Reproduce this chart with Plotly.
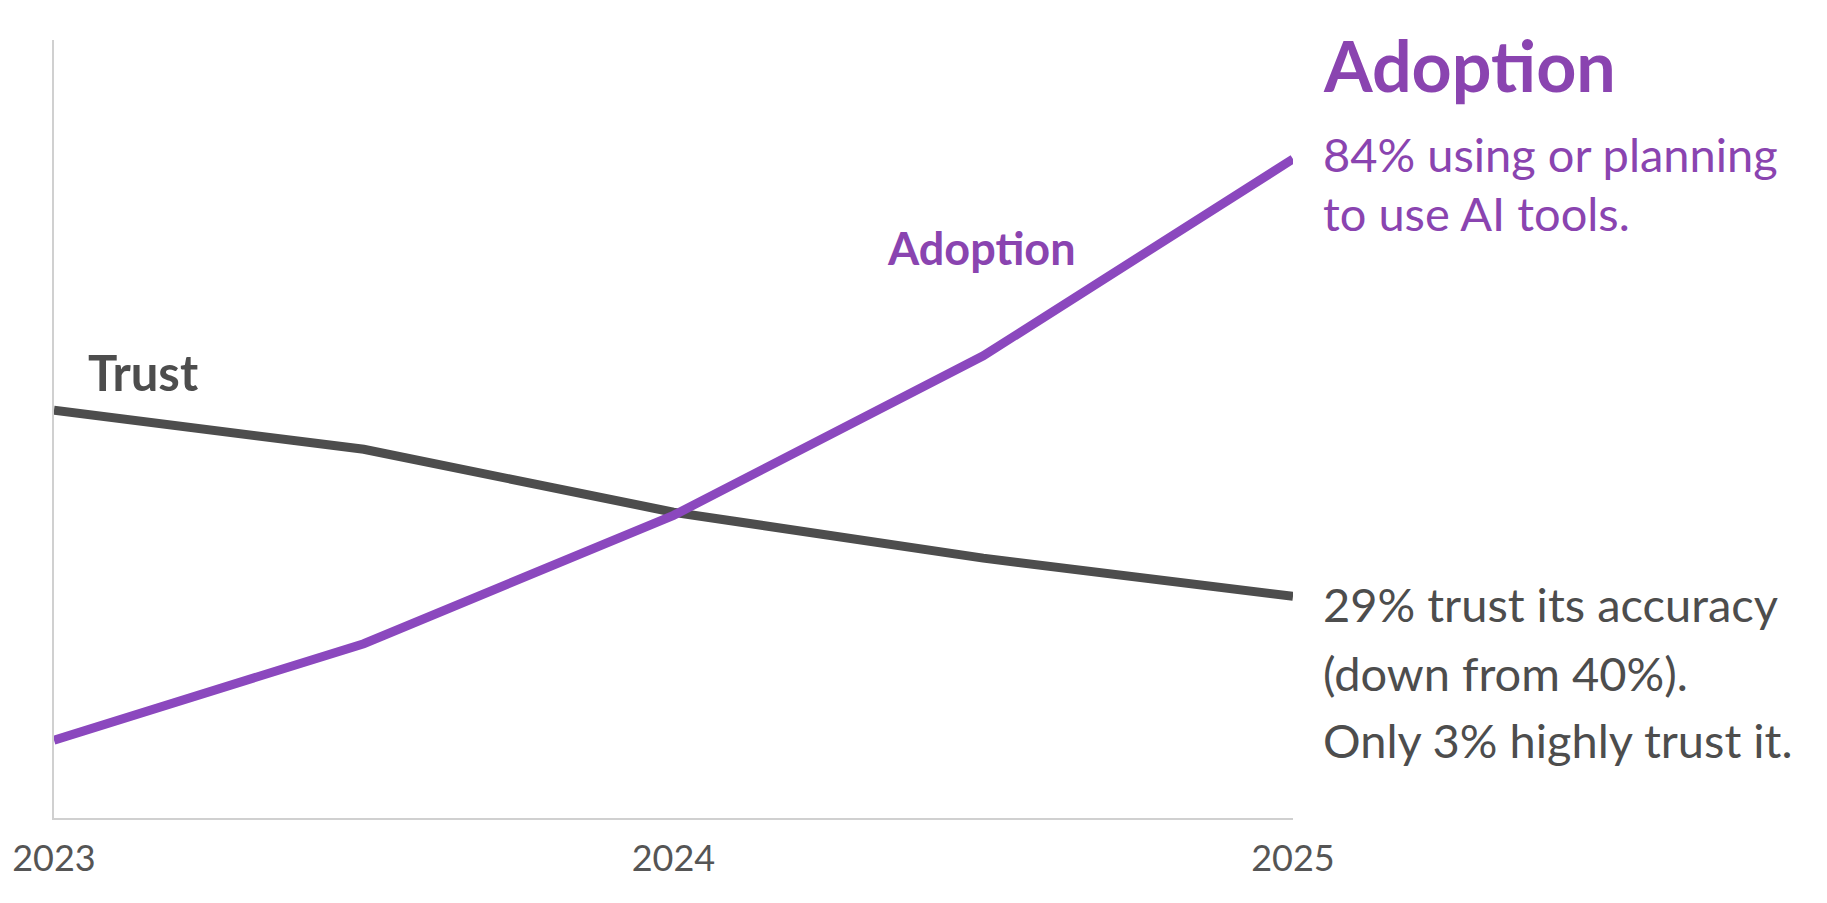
# -*- coding: utf-8 -*-
# Adopción vs. confianza en herramientas de IA (2023-2025)
import plotly.graph_objects as go

# --- Datos ---
anios = [2023, 2023.5, 2024, 2024.5, 2025]
adopcion = [10.0, 22.4, 38.9, 59.4, 84.7]
confianza = [52.4, 47.4, 39.3, 33.4, 28.5]
ticks_anios = [2023, 2024, 2025]
etiquetas_anios = ["2023", "2024", "2025"]

morado = "#8B48BE"
morado_texto = "#8A44B0"
gris = "#4D4D4D"
fuente = "Lato"

fig = go.Figure()

fig.add_trace(go.Scatter(x=anios, y=confianza, mode="lines",
                         line=dict(color=gris, width=9), hoverinfo="skip"))
fig.add_trace(go.Scatter(x=anios, y=adopcion, mode="lines",
                         line=dict(color=morado, width=9), hoverinfo="skip"))

# Etiquetas sobre las líneas
fig.add_annotation(x=2023, y=57.3, text="<b>Trust</b>", showarrow=False,
                   xanchor="left", xshift=32, font=dict(size=49, color=gris, family=fuente))
fig.add_annotation(x=2024.342, y=73.3, text="<b>Adoption</b>", showarrow=False,
                   xanchor="left", font=dict(size=45, color=morado_texto, family=fuente))

# Bloque de texto a la derecha
derecha = [
    (96.8, "<b>Adoption</b>", 70, morado_texto),
    (85.3, "84% using or planning", 47, morado_texto),
    (77.7, "to use AI tools.", 47, morado_texto),
    (27.5, "29% trust its accuracy", 47, gris),
    (18.6, "(down from 40%).", 47, gris),
    (10.0, "Only 3% highly trust it.", 47, gris),
]
for y, texto, tam, color in derecha:
    fig.add_annotation(x=2025, y=y, text=texto, showarrow=False, xanchor="left",
                       xshift=28, font=dict(size=tam, color=color, family=fuente))

fig.update_xaxes(range=[2023, 2025], tickvals=ticks_anios, ticktext=etiquetas_anios,
                 showgrid=False, zeroline=False, showline=True, linecolor="#d0d0d0",
                 linewidth=2, ticks="", ticklabelstandoff=8, automargin=False,
                 tickfont=dict(size=36, color="#555555", family=fuente))
fig.update_yaxes(range=[0, 100], showgrid=False, zeroline=False, showline=True,
                 linecolor="#d0d0d0", linewidth=2, showticklabels=False, ticks="",
                 automargin=False)

fig.update_layout(width=1827, height=903, showlegend=False,
                  paper_bgcolor="white", plot_bgcolor="white",
                  margin=dict(l=46, r=542, t=32, b=93))

fig.write_html("out.html")
